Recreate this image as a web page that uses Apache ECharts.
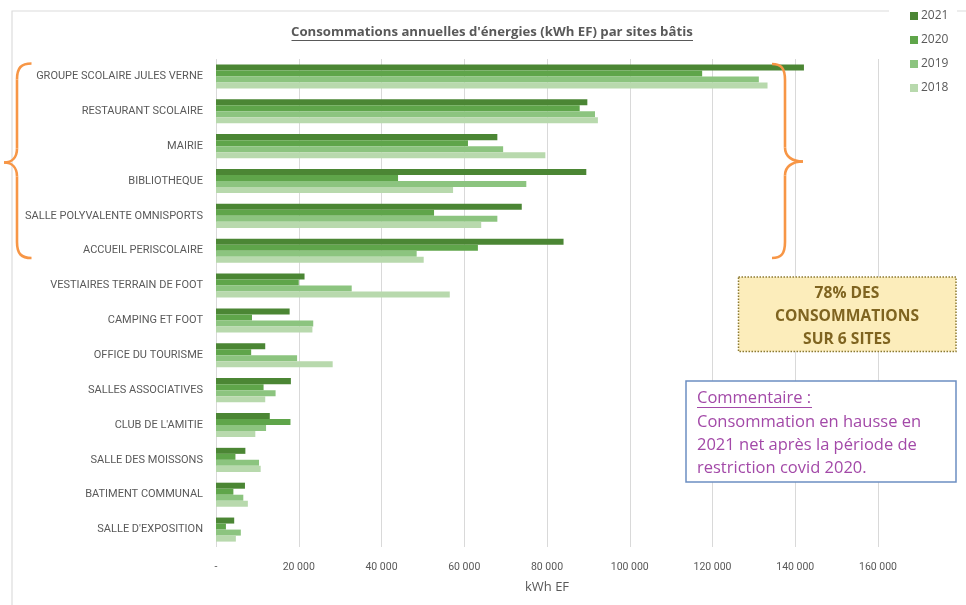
<!DOCTYPE html>
<html>
<head>
<meta charset="utf-8">
<script src="https://cdn.jsdelivr.net/npm/echarts@6/dist/echarts.min.js"></script>
<style>
html,body{margin:0;padding:0;background:#fff;}
#chart{width:966px;height:605px;}
</style>
</head>
<body>
<div id="chart"></div>
<script>
var categories = [
  "GROUPE SCOLAIRE JULES VERNE",
  "RESTAURANT SCOLAIRE",
  "MAIRIE",
  "BIBLIOTHEQUE",
  "SALLE POLYVALENTE OMNISPORTS",
  "ACCUEIL PERISCOLAIRE",
  "VESTIAIRES TERRAIN DE FOOT",
  "CAMPING ET FOOT",
  "OFFICE DU TOURISME",
  "SALLES ASSOCIATIVES",
  "CLUB DE L'AMITIE",
  "SALLE DES MOISSONS",
  "BATIMENT COMMUNAL",
  "SALLE D'EXPOSITION"
];
var years = ["2021", "2020", "2019", "2018"];
var values2021 = [142100, 89750, 68000, 89500, 73900, 84000, 21400, 17800, 11900, 18100, 13000, 7100, 7000, 4400];
var values2020 = [117500, 87900, 60900, 44000, 52700, 63300, 20000, 8700, 8500, 11500, 18000, 4700, 4200, 2400];
var values2019 = [131200, 91600, 69400, 75000, 68000, 48500, 32800, 23500, 19600, 14400, 12100, 10400, 6600, 6000];
var values2018 = [133300, 92300, 79600, 57300, 64100, 50200, 56500, 23300, 28200, 11900, 9500, 10800, 7700, 4800];
var xTicks = {min: 0, max: 160000, interval: 20000};
var titleText = "Consommations annuelles d'énergies (kWh EF) par sites bâtis";
var axisName = "kWh EF";
var noteBig = "78% DES\nCONSOMMATIONS\nSUR 6 SITES";
var commentTitle = "Commentaire :";
var commentBody = "Consommation en hausse en\n2021 net après la période de\nrestriction covid 2020.";

var colors = {"2021": "#4b8634", "2020": "#5fa54a", "2019": "#8cc47f", "2018": "#b8d9ad"};
var seriesData = {"2021": values2021, "2020": values2020, "2019": values2019, "2018": values2018};

function fmt(v) {
  if (v === 0) return "-";
  return String(v).replace(/\B(?=(\d{3})+(?!\d))/g, " ");
}

var braceStyle = {fill: 'none', stroke: '#f79646', lineWidth: 2.6};
function brace(xe, xm, xt, yTop, yMid, yBot) {
  var k = (xe - xm);
  var els = [];
  function bz(a, b, c, e) {
    els.push({type: 'bezierCurve', z: 20, silent: true,
      shape: {x1: a[0], y1: a[1], cpx1: b[0], cpy1: b[1], cpx2: c[0], cpy2: c[1], x2: e[0], y2: e[1]},
      style: braceStyle});
  }
  function ln(a, b) {
    els.push({type: 'line', z: 20, silent: true,
      shape: {x1: a[0], y1: a[1], x2: b[0], y2: b[1]}, style: braceStyle});
  }
  bz([xe, yTop], [xm + k * 0.3, yTop], [xm, yTop + 4], [xm, yTop + 16]);
  ln([xm, yTop + 16], [xm, yMid - 14]);
  bz([xm, yMid - 14], [xm, yMid - 5], [xm + (xt - xm) * 0.4, yMid], [xt, yMid]);
  bz([xt, yMid], [xm + (xt - xm) * 0.4, yMid], [xm, yMid + 5], [xm, yMid + 14]);
  ln([xm, yMid + 14], [xm, yBot - 16]);
  bz([xm, yBot - 16], [xm, yBot - 4], [xm + k * 0.3, yBot], [xe, yBot]);
  return els;
}

var chart = echarts.init(document.getElementById('chart'), null, {renderer: 'canvas'});
var gray = '#595959';
var labelFont = "Roboto, 'Liberation Sans', sans-serif";
var textFont = "'Open Sans', sans-serif";

var graphics = [
  {type: 'rect', z: -10, silent: true, shape: {x: 12, y: 11, width: 980, height: 620},
   style: {fill: 'none', stroke: '#dcdcdc', lineWidth: 1.2}},
  {type: 'rect', z: 1, silent: true, shape: {x: 889, y: 4, width: 68, height: 98},
   style: {fill: '#fff'}},
  {type: 'line', z: 5, silent: true, shape: {x1: 291.5, y1: 40.5, x2: 693, y2: 40.5},
   style: {stroke: gray, lineWidth: 1}},
  {type: 'rect', z: 20, silent: true, shape: {x: 738.5, y: 277, width: 217.5, height: 74.5},
   style: {fill: '#fcedbb', stroke: '#8c7a33', lineWidth: 1.5, lineDash: [1.5, 1.5]}},
  {type: 'text', z: 21, silent: true, x: 847, y: 316.5,
   style: {text: noteBig, fill: '#7f6420', font: "bold 15.6px " + textFont,
           textAlign: 'center', textVerticalAlign: 'middle', lineHeight: 23}},
  {type: 'rect', z: 20, silent: true, shape: {x: 686, y: 381, width: 270, height: 101},
   style: {fill: '#fff', stroke: '#6c8ec2', lineWidth: 1.5}},
  {type: 'text', z: 21, silent: true, x: 697, y: 398.5,
   style: {text: commentTitle, fill: '#a349a8', font: "16.5px " + textFont,
           textAlign: 'left', textVerticalAlign: 'middle'}},
  {type: 'line', z: 21, silent: true, shape: {x1: 697, y1: 407.5, x2: 812, y2: 407.5},
   style: {stroke: '#a349a8', lineWidth: 1}},
  {type: 'text', z: 21, silent: true, x: 697, y: 445,
   style: {text: commentBody, fill: '#a349a8', font: "16.5px " + textFont,
           textAlign: 'left', textVerticalAlign: 'middle', lineHeight: 23}}
];
graphics = graphics.concat(brace(31.5, 17, 4, 63.5, 162.5, 258));
graphics = graphics.concat(brace(772, 785, 803, 64, 161.5, 258));

var option = {
  backgroundColor: '#fff',
  animation: false,
  title: {
    text: titleText,
    left: 291, top: 26,
    padding: 0,
    textStyle: {color: gray, fontSize: 13.2, fontWeight: 'bold', fontFamily: textFont}
  },
  legend: {
    data: years,
    orient: 'vertical',
    left: 910, top: 10,
    padding: 0,
    itemWidth: 8, itemHeight: 8,
    itemGap: 12,
    icon: 'rect',
    z: 10,
    textStyle: {color: gray, fontSize: 12, fontFamily: textFont, padding: [0, 0, 0, -2]}
  },
  grid: {left: 216, right: 88, top: 59, bottom: 58, containLabel: false},
  xAxis: {
    type: 'value',
    min: xTicks.min, max: xTicks.max, interval: xTicks.interval,
    name: axisName, nameLocation: 'middle', nameGap: 34,
    nameTextStyle: {color: gray, fontSize: 13, fontFamily: textFont},
    axisLine: {show: false}, axisTick: {show: false},
    axisLabel: {formatter: fmt, color: gray, fontSize: 10.5, margin: 15, fontFamily: labelFont},
    splitLine: {lineStyle: {color: '#d9d9d9', width: 1}}
  },
  yAxis: {
    type: 'category', data: categories, inverse: true,
    axisLine: {show: false}, axisTick: {show: false},
    axisLabel: {color: gray, fontSize: 11, margin: 13, fontFamily: labelFont}
  },
  series: years.map(function (y) {
    return {
      name: y, type: 'bar', data: seriesData[y],
      barGap: '0%', barCategoryGap: '31%',
      itemStyle: {color: colors[y]}
    };
  }),
  graphic: graphics
};
chart.setOption(option);
</script>
</body>
</html>
